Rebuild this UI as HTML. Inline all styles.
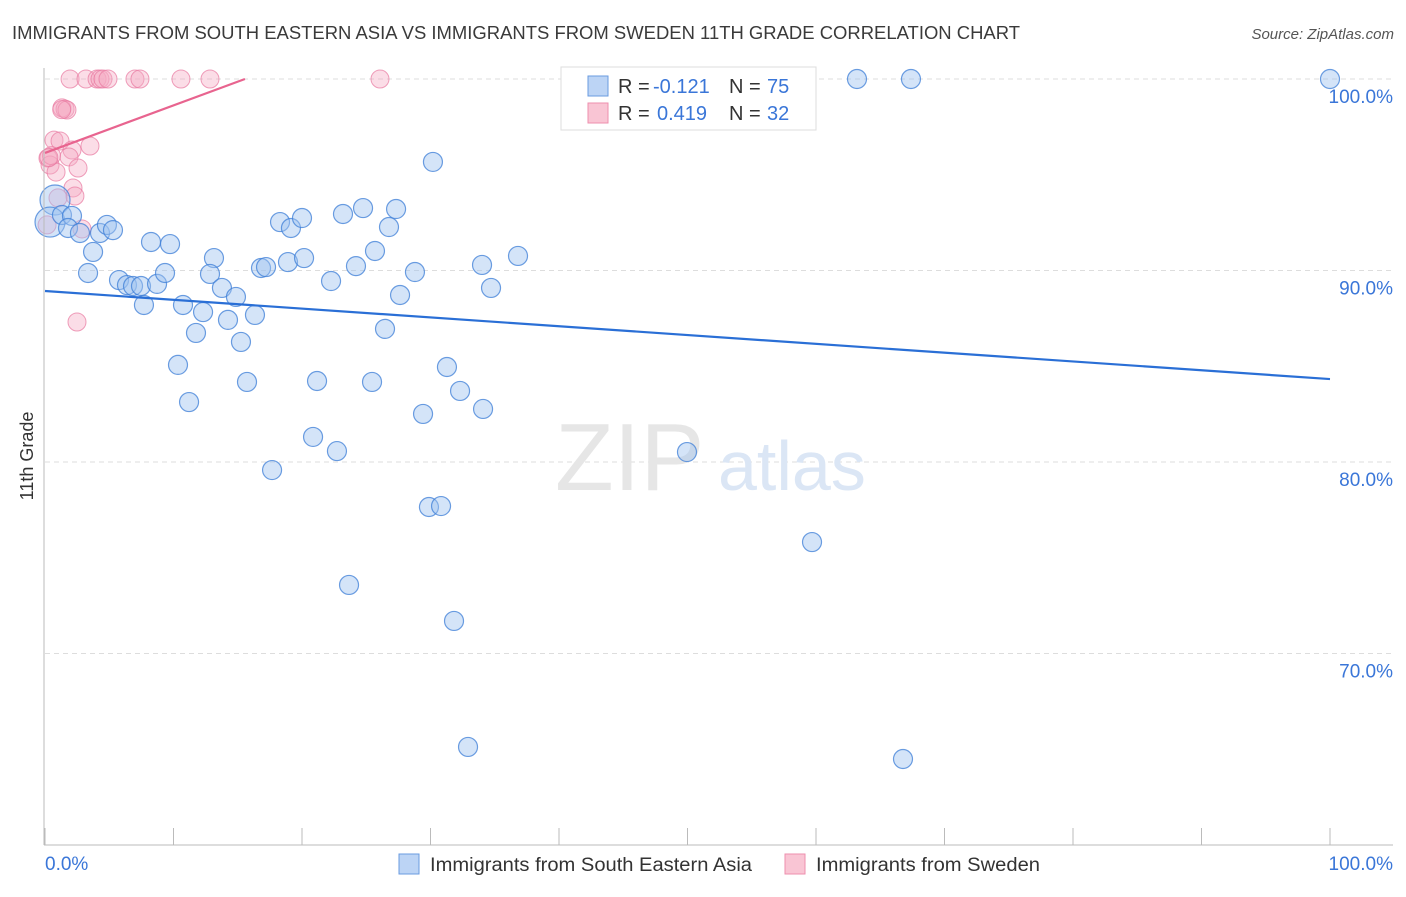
<!DOCTYPE html>
<html><head><meta charset="utf-8"><style>
body{margin:0;background:#fff;font-family:"Liberation Sans",sans-serif}
svg text{font-family:"Liberation Sans",sans-serif}
</style></head><body>
<svg id="c" width="1406" height="892">
<text x="12" y="39" font-size="18" fill="#3a3a3a" textLength="1008" lengthAdjust="spacingAndGlyphs">IMMIGRANTS FROM SOUTH EASTERN ASIA VS IMMIGRANTS FROM SWEDEN 11TH GRADE CORRELATION CHART</text>
<text x="1394" y="39" font-size="15" fill="#555" font-style="italic" text-anchor="end">Source: ZipAtlas.com</text>
<text x="33" y="456" font-size="18" fill="#333" transform="rotate(-90 33 456)" text-anchor="middle">11th Grade</text>
<g id="grid"></g>
<text x="555" y="490" font-size="96" fill="#e6e6e6" font-family="Liberation Serif">ZIP</text>
<text x="718" y="490" font-size="70" fill="#dbe6f5">atlas</text>
<g id="pts"></g>
<g id="lines"></g>
<line x1="44" y1="68" x2="44" y2="845" stroke="#bbb"/>
<line x1="44" y1="845" x2="1393" y2="845" stroke="#bbb"/>
<text x="45" y="870" font-size="19" fill="#3a76d8">0.0%</text>
<text x="1393" y="870" font-size="19" fill="#3a76d8" text-anchor="end">100.0%</text>
<g>
<rect x="561" y="67" width="255" height="63" fill="#fff" stroke="#ddd"/>
<rect x="588" y="76" width="20" height="20" fill="#bcd4f5" stroke="#6a9be0"/>
<rect x="588" y="103" width="20" height="20" fill="#f9c5d4" stroke="#ee8fae"/>
<text x="618" y="93" font-size="20" fill="#333">R =</text>
<text x="653" y="93" font-size="20" fill="#3a76d8">-0.121</text>
<text x="729" y="93" font-size="20" fill="#333">N =</text>
<text x="767" y="93" font-size="20" fill="#3a76d8">75</text>
<text x="618" y="120" font-size="20" fill="#333">R =</text>
<text x="657" y="120" font-size="20" fill="#3a76d8">0.419</text>
<text x="729" y="120" font-size="20" fill="#333">N =</text>
<text x="767" y="120" font-size="20" fill="#3a76d8">32</text>
</g>
<g>
<rect x="399" y="854" width="20" height="20" fill="#bcd4f5" stroke="#6a9be0"/>
<text x="430" y="871" font-size="19" fill="#333" textLength="322" lengthAdjust="spacingAndGlyphs">Immigrants from South Eastern Asia</text>
<rect x="785" y="854" width="20" height="20" fill="#f9c5d4" stroke="#ee8fae"/>
<text x="816" y="871" font-size="19" fill="#333" textLength="224" lengthAdjust="spacingAndGlyphs">Immigrants from Sweden</text>
</g>
</svg>
<script>
const blueX=[0.78,0.39,1.32,2.10,1.79,2.72,4.28,4.82,5.29,3.74,3.35,8.25,9.73,5.76,6.38,6.85,7.47,8.72,9.34,7.70,10.74,12.30,11.75,13.15,12.84,13.77,14.86,14.24,16.34,15.25,10.35,11.21,15.72,17.67,18.29,19.14,20.00,16.81,17.20,18.91,20.16,22.26,21.17,20.86,22.72,23.19,24.75,24.20,25.68,26.77,27.32,27.63,26.46,25.45,28.79,30.19,29.42,31.28,32.30,34.01,34.71,34.09,36.81,29.88,30.82,23.66,31.83,32.92,49.96,59.69,63.19,67.39,66.77,100,42.96];
const blueY=[93.68,92.53,92.90,92.85,92.22,91.96,91.96,92.38,92.11,90.97,89.87,91.49,91.38,89.50,89.24,89.19,89.19,89.30,89.87,88.20,88.20,87.83,86.74,90.65,89.82,89.09,88.62,87.42,87.68,86.27,85.07,83.13,84.18,79.58,92.53,92.22,92.74,90.13,90.18,90.44,90.65,89.45,84.23,81.31,80.57,92.95,93.26,90.23,91.02,92.27,93.21,88.72,86.95,84.18,89.92,95.67,82.51,84.96,83.71,90.29,89.09,82.77,90.76,77.65,77.70,73.58,71.70,65.12,80.52,75.82,100,100,64.49,100,99.95];
const pinkX=[1.95,3.19,4.05,4.28,4.51,4.90,7.00,7.39,10.58,12.84,26.07,1.32,1.56,1.71,0.70,1.17,3.50,2.10,0.23,0.39,1.87,0.86,2.57,2.18,2.33,1.01,2.88,2.49,0.16,0.5,1.3,0.3];
const pinkY=[100,100,100,100,100,100,100,100,100,100,100,98.49,98.43,98.38,96.81,96.76,96.50,96.29,95.87,95.51,95.93,95.14,95.35,94.31,93.89,93.79,92.17,87.31,92.38,96.0,98.4,95.9];
const yTicks=[100,90,80,70];
const yTickLabels=["100.0%","90.0%","80.0%","70.0%"];
const xTicks=[0,10,20,30,40,50,60,70,80,90,100];
const blueTrend=[88.93,84.33];
const pinkTrend=[96.14,100,15.56];
const NS="http://www.w3.org/2000/svg";
const sx=v=>45+v*12.85, sy=v=>79+(100-v)*19.15;
function mk(t,a,p){const e=document.createElementNS(NS,t);for(const k in a)e.setAttribute(k,a[k]);p.appendChild(e);return e;}
const grid=document.getElementById('grid');
yTicks.forEach((t,i)=>{
 const l=mk('line',{x1:45,x2:1393,y1:sy(t),y2:sy(t),stroke:'#ddd','stroke-dasharray':'5,4'},grid);
 
 
 const tx=mk('text',{x:1393,y:sy(t)+24,'font-size':19,fill:'#3a76d8','text-anchor':'end'},grid);
 tx.textContent=yTickLabels[i];
 
 
});
xTicks.forEach(t=>{
 const l=mk('line',{x1:sx(t),x2:sx(t),y1:828,y2:845,stroke:'#bbb'},grid);
 
 
});
const pts=document.getElementById('pts');
pinkX.forEach((x,i)=>{
 const c=mk('circle',{cx:sx(x),cy:sy(pinkY[i]),r:9,fill:'rgba(246,170,195,0.4)',stroke:'rgba(232,120,160,0.7)','stroke-width':1},pts);
 
 
});
blueX.forEach((x,i)=>{
 const r=i<2?15:9.5;
 const c=mk('circle',{cx:sx(x),cy:sy(blueY[i]),r:r,fill:'rgba(160,195,240,0.45)',stroke:'rgba(60,125,215,0.75)','stroke-width':1.2},pts);
 
 
});
const lines=document.getElementById('lines');
const bl=mk('line',{x1:sx(0),y1:sy(blueTrend[0]),x2:sx(100),y2:sy(blueTrend[1]),stroke:'#2a6fd6','stroke-width':2.2},lines);


const pl=mk('line',{x1:sx(0),y1:sy(pinkTrend[0]),x2:sx(pinkTrend[2]),y2:sy(pinkTrend[1]),stroke:'#e8648f','stroke-width':2.2},lines);


</script>
</body></html>
